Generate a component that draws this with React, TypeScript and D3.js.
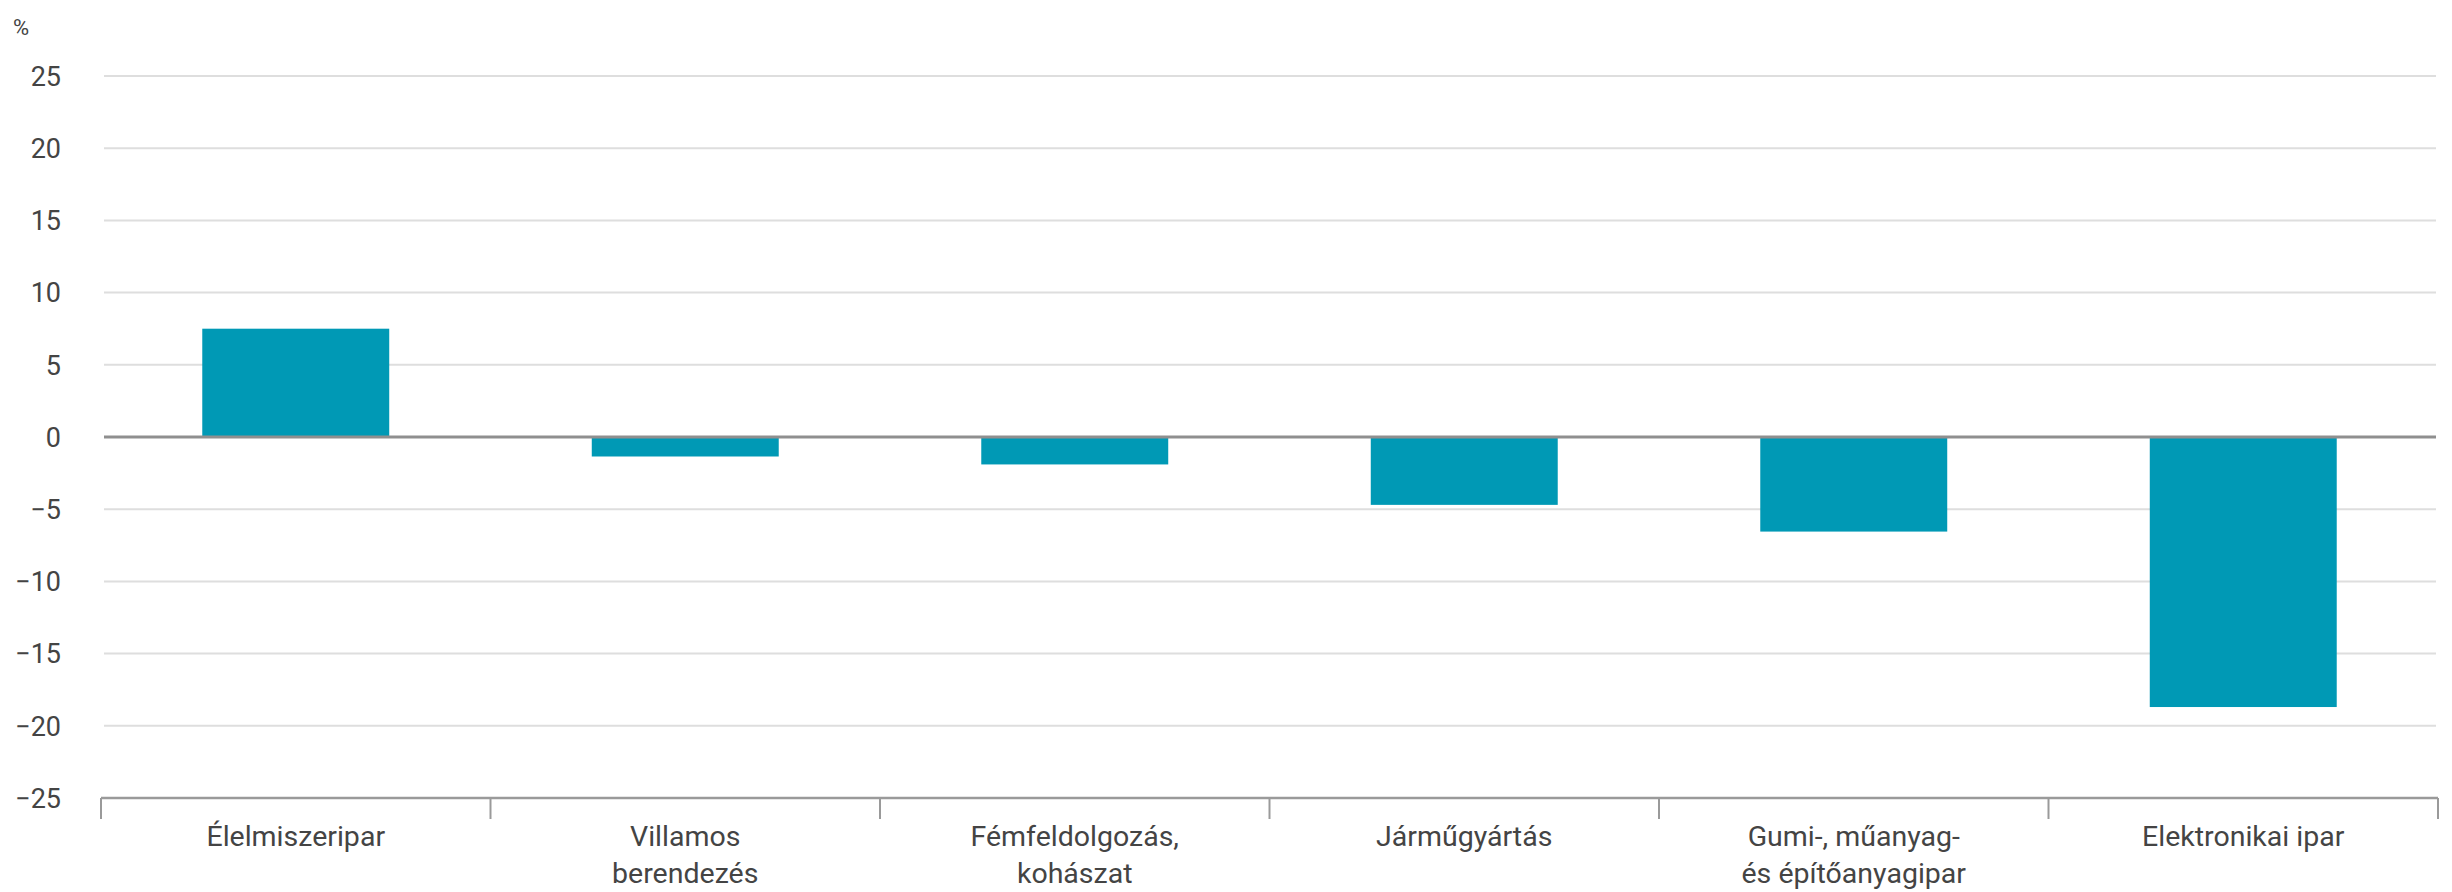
import React from "react";
import * as d3 from "d3";

const categories: string[][] = [
  ["Élelmiszeripar"],
  ["Villamos", "berendezés"],
  ["Fémfeldolgozás,", "kohászat"],
  ["Járműgyártás"],
  ["Gumi-, műanyag-", "és építőanyagipar"],
  ["Elektronikai ipar"],
];
const values: number[] = [7.5, -1.35, -1.9, -4.7, -6.55, -18.7];
const yTicks: number[] = [25, 20, 15, 10, 5, 0, -5, -10, -15, -20, -25];
const yUnit = "%";

const W = 2452;
const H = 892;
const left = 101;
const right = 2438;
const top = 76;
const bottom = 798;
const FONT = "Roboto, 'Noto Sans', sans-serif";
const TEXT = "#444";
const BAR = "#0099b5";

export default function App() {
  const keys = categories.map((_, i) => String(i));
  const x = d3.scaleBand<string>().domain(keys).range([left, right]).paddingInner(0.52).paddingOuter(0.26);
  const y = d3.scaleLinear().domain([-25, 25]).range([bottom, top]);
  const step = (right - left) / categories.length;
  const boundaries = d3.range(categories.length + 1).map((i) => left + i * step);

  return (
    <svg width={W} height={H} style={{ position: "absolute", left: 0, top: 0, background: "#fff" }}>
      <text x={13} y={35} fontFamily={FONT} fontSize={22} fill={TEXT}>{yUnit}</text>
      {yTicks.map((t) => (
        <g key={t}>
          {t !== 0 && t !== -25 && (
            <line x1={left + 3} x2={right - 2} y1={y(t)} y2={y(t)} stroke="#dedede" strokeWidth={2} />
          )}
          <text x={61} y={y(t)} dy="0.36em" textAnchor="end" fontFamily={FONT} fontSize={27} fill={TEXT}>
            {t < 0 ? "\u2212" + Math.abs(t) : String(t)}
          </text>
        </g>
      ))}
      {values.map((v, i) => (
        <rect
          key={i}
          x={x(String(i))}
          width={x.bandwidth()}
          y={y(Math.max(0, v))}
          height={Math.abs(y(v) - y(0))}
          fill={BAR}
        />
      ))}
      <line x1={left + 3} x2={right - 2} y1={y(0)} y2={y(0)} stroke="#8f8f8f" strokeWidth={3} />
      <line x1={left} x2={right} y1={y(-25)} y2={y(-25)} stroke="#9a9a9a" strokeWidth={2.5} />
      {boundaries.map((bx, i) => (
        <line key={i} x1={bx} x2={bx} y1={y(-25)} y2={y(-25) + 21} stroke="#9a9a9a" strokeWidth={2} />
      ))}
      {categories.map((lines, i) => (
        <text key={i} textAnchor="middle" fontFamily={FONT} fontSize={28.5} fill={TEXT}>
          {lines.map((ln, j) => (
            <tspan key={j} x={(x(String(i)) as number) + x.bandwidth() / 2} y={846 + j * 37}>
              {ln}
            </tspan>
          ))}
        </text>
      ))}
    </svg>
  );
}
